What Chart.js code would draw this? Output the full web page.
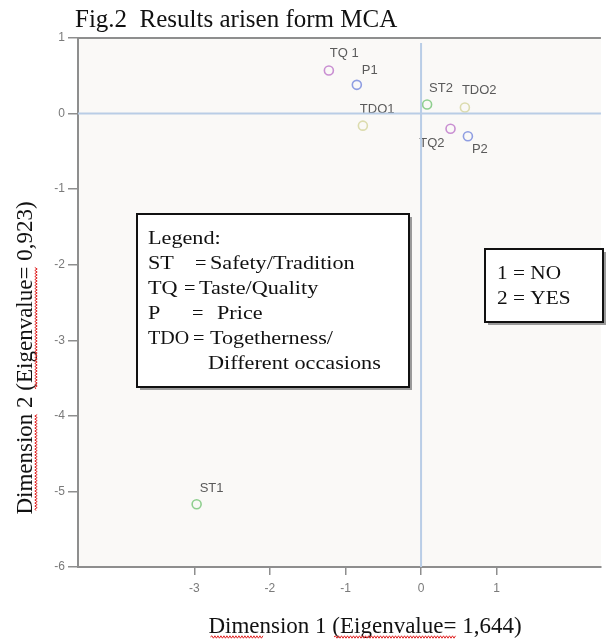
<!DOCTYPE html>
<html><head><meta charset="utf-8">
<script src="https://cdn.jsdelivr.net/npm/chart.js@4.4.1/dist/chart.umd.min.js"></script>
<style>html,body{margin:0;padding:0;background:#fff;}</style>
</head><body>
<canvas id="c" width="607" height="642"></canvas>
<script>
// ---------- data ----------
const chartTitle = 'Fig.2  Results arisen form MCA';
const xAxisTitle = 'Dimension 1 (Eigenvalue= 1,644)';
const yAxisTitle = 'Dimension 2 (Eigenvalue= 0,923)';
const pointLabels   = ['ST1', 'ST2', 'TQ 1', 'TQ2', 'P1', 'P2', 'TDO1', 'TDO2'];
const pointVariable = ['ST',  'ST',  'TQ',   'TQ',  'P',  'P',  'TDO',  'TDO'];
const dim1 = [-2.97, 0.08, -1.22, 0.39, -0.85, 0.62, -0.77, 0.58];
const dim2 = [-5.17, 0.12,  0.57, -0.20, 0.38, -0.30, -0.16, 0.08];
const variables = ['ST', 'TQ', 'P', 'TDO'];
const xTickValues = [-3, -2, -1, 0, 1];
const yTickValues = [1, 0, -1, -2, -3, -4, -5, -6];
const legendAbbr = ['Legend:', 'ST', 'TQ', 'P', 'TDO', ''];
const legendEq   = ['', '=', '=', '=', '=', ''];
const legendDesc = ['', 'Safety/Tradition', 'Taste/Quality', 'Price', 'Togetherness/', 'Different occasions'];
const codeRows = ['1 = NO', '2 = YES'];

// ---------- styles ----------
const varColors = { ST: '#8fcf8f', TQ: '#c98fd2', P: '#8f9ee2', TDO: '#dcdcae' };
const labelOffsets = { // px offsets of label anchor from point, and alignment
  'ST1': [3, -16, 'left'], 'ST2': [2, -16, 'left'], 'TQ 1': [1, -17, 'left'],
  'TQ2': [-6, 15, 'right'], 'P1': [5, -14, 'left'], 'P2': [4, 13, 'left'],
  'TDO1': [-3, -16, 'left'], 'TDO2': [-3, -17, 'left']
};
const legendEqX   = [0, 195, 184, 192, 193, 0];
const legendDescX = [0, 210, 199, 217, 210, 208];
const axisGrey = '#8e8e8e';
const serif = '"Liberation Serif", "Times New Roman", serif';
const sans = '"Liberation Sans", Arial, sans-serif';

const datasets = variables.map(v => ({
  label: v,
  data: dim1.map((x, i) => ({ x: x, y: dim2[i], name: pointLabels[i] })).filter((p, i) => pointVariable[i] === v),
  backgroundColor: 'rgba(0,0,0,0)',
  borderColor: varColors[v],
  pointRadius: 4.5,
  pointBorderWidth: 1.6,
  pointHoverRadius: 4.5
}));

function wavy(ctx, x1, x2, y) {
  ctx.save();
  ctx.strokeStyle = '#e02020';
  ctx.lineWidth = 1;
  ctx.beginPath();
  let up = true;
  ctx.moveTo(x1, y);
  for (let x = x1 + 1.5; x <= x2; x += 1.5) {
    ctx.lineTo(x, y + (up ? -1.2 : 1.2));
    up = !up;
  }
  ctx.stroke();
  ctx.restore();
}
function stretchText(ctx, t, x, y, sx) {
  ctx.save();
  ctx.translate(x, y);
  ctx.scale(sx, 1);
  ctx.fillText(t, 0, 0);
  ctx.restore();
}

const decor = {
  id: 'decor',
  beforeDraw(chart) {
    const { ctx, chartArea: a } = chart;
    ctx.save();
    ctx.fillStyle = '#faf9f7';
    ctx.fillRect(a.left, a.top, a.right - a.left, a.bottom - a.top);
    ctx.restore();
  },
  afterDatasetsDraw(chart) {
    const { ctx, chartArea: a, scales } = chart;
    ctx.save();
    ctx.font = '13px ' + sans;
    ctx.fillStyle = '#5a5a5a';
    ctx.textBaseline = 'middle';
    chart.data.datasets.forEach((ds, di) => {
      const meta = chart.getDatasetMeta(di);
      meta.data.forEach((el, j) => {
        const name = ds.data[j].name;
        const off = labelOffsets[name];
        ctx.textAlign = off[2];
        ctx.fillText(name, el.x + off[0], el.y + off[1]);
      });
    });
    ctx.restore();
    ctx.save();
    ctx.strokeStyle = '#b9cde6';
    ctx.lineWidth = 2;
    const x0 = scales.x.getPixelForValue(0), y0 = scales.y.getPixelForValue(0);
    ctx.beginPath();
    ctx.moveTo(x0, a.top + 5); ctx.lineTo(x0, a.bottom);
    ctx.moveTo(a.left, y0); ctx.lineTo(a.right, y0);
    ctx.stroke();
    ctx.restore();
  },
  afterDraw(chart) {
    const { ctx, chartArea: a } = chart;
    ctx.save();
    ctx.strokeStyle = axisGrey; ctx.lineWidth = 2;
    ctx.beginPath(); ctx.moveTo(a.left, a.top); ctx.lineTo(a.right, a.top); ctx.stroke();
    // title
    ctx.fillStyle = '#111';
    ctx.font = '25px ' + serif;
    ctx.textAlign = 'left'; ctx.textBaseline = 'alphabetic';
    ctx.fillText(chartTitle, 75, 27);
    // x axis title
    ctx.font = '23px ' + serif;
    ctx.textAlign = 'center';
    const xtW = ctx.measureText(xAxisTitle).width;
    const xtL = 365 - xtW / 2;
    ctx.fillText(xAxisTitle, 365, 633);
    const wD = ctx.measureText('Dimension').width;
    const wPre = ctx.measureText('Dimension 1 (').width;
    const wE = ctx.measureText('Eigenvalue=').width;
    wavy(ctx, xtL + 2, xtL + wD * 0.55, 637);
    wavy(ctx, xtL + wPre - 6, xtL + wPre + wE, 637);
    // y axis title
    ctx.save();
    ctx.translate(32, 358);
    ctx.rotate(-Math.PI / 2);
    ctx.fillStyle = '#111';
    ctx.fillText(yAxisTitle, 0, 0);
    const ytW = ctx.measureText(yAxisTitle).width;
    const ytL = -ytW / 2;
    const wPre2 = ctx.measureText('Dimension 2 (').width;
    wavy(ctx, ytL + 4, ytL + wD, 4);
    wavy(ctx, ytL + wPre2 - 6, ytL + wPre2 + wE, 4);
    ctx.restore();
    // boxes
    function box(x, y, w, h) {
      ctx.fillStyle = '#9a9a9a';
      ctx.fillRect(x + 3, y + 3, w, h);
      ctx.fillStyle = '#ffffff';
      ctx.fillRect(x, y, w, h);
      ctx.strokeStyle = '#111'; ctx.lineWidth = 2;
      ctx.strokeRect(x, y, w, h);
    }
    box(137, 214, 272, 173);
    ctx.fillStyle = '#111';
    ctx.font = '18.5px ' + serif;
    ctx.textAlign = 'left'; ctx.textBaseline = 'alphabetic';
    for (let i = 0; i < legendAbbr.length; i++) {
      const y = 244 + i * 25;
      const sx = (i === 4) ? 1.08 : 1.2;
      if (legendAbbr[i]) stretchText(ctx, legendAbbr[i], 148, y, sx);
      if (legendEq[i]) stretchText(ctx, legendEq[i], legendEqX[i], y, 1.1);
      if (legendDesc[i]) stretchText(ctx, legendDesc[i], legendDescX[i], y, 1.2);
    }
    box(485, 249, 118, 73);
    ctx.fillStyle = '#111';
    codeRows.forEach((t, i) => stretchText(ctx, t, 497, 279 + i * 25, 1.15));
    ctx.restore();
  }
};

new Chart(document.getElementById('c'), {
  type: 'scatter',
  data: { datasets: datasets },
  options: {
    responsive: false,
    animation: false,
    events: [],
    layout: { padding: { top: 38, left: 0, right: 0, bottom: 0 } },
    plugins: { legend: { display: false }, tooltip: { enabled: false }, title: { display: false } },
    scales: {
      x: {
        type: 'linear', min: -4.54, max: 2.38,
        afterBuildTicks: s => { s.ticks = xTickValues.map(v => ({ value: v })); },
        afterFit: s => { s.height = 75; },
        grid: { drawOnChartArea: false, drawTicks: true, tickLength: 8, color: axisGrey, lineWidth: 1.5 },
        border: { display: true, color: axisGrey, width: 2 },
        ticks: { color: '#7a7a7a', font: { family: sans, size: 12 }, padding: 6, maxRotation: 0, autoSkip: false }
      },
      y: {
        type: 'linear', min: -6, max: 1,
        afterBuildTicks: s => { s.ticks = yTickValues.map(v => ({ value: v })); },
        afterFit: s => { s.width = 78; },
        grid: { drawOnChartArea: false, drawTicks: true, tickLength: 10, color: axisGrey, lineWidth: 1.5 },
        border: { display: true, color: axisGrey, width: 2 },
        ticks: { color: '#7a7a7a', font: { family: sans, size: 12 }, padding: 3, autoSkip: false }
      }
    }
  },
  plugins: [decor]
});
</script>
</body></html>
